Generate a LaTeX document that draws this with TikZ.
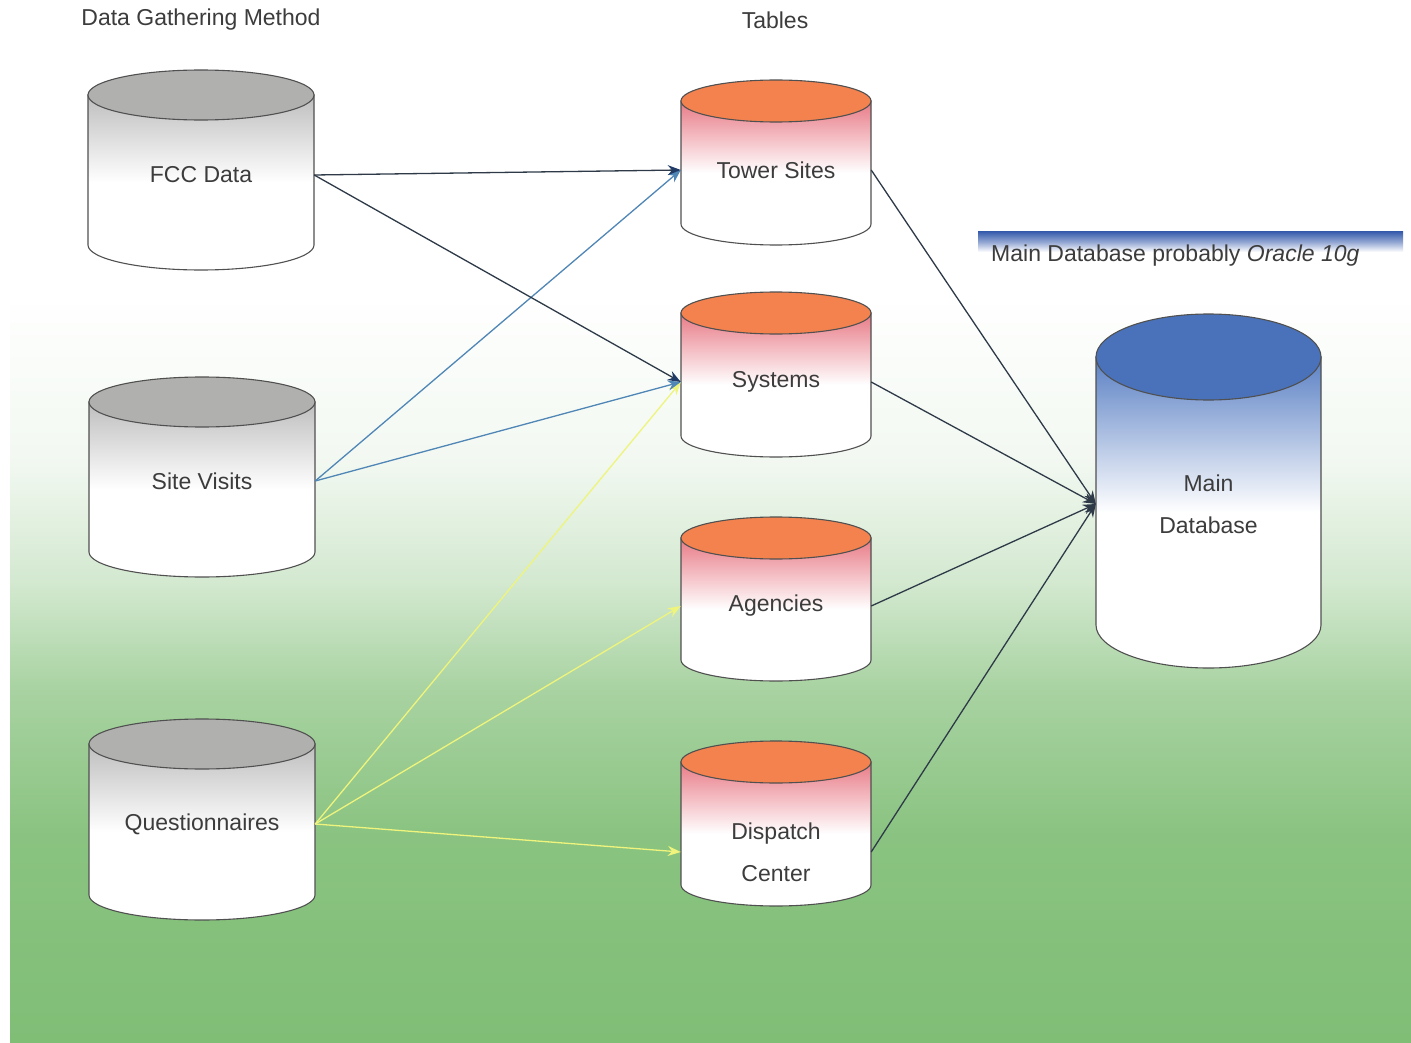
\documentclass[tikz,border=0pt]{standalone}
\usepackage{fontspec}
\setmainfont{Liberation Sans}
\usetikzlibrary{arrows.meta,positioning,calc}
\definecolor{dbink}{HTML}{3C3C3C}
\definecolor{dbline}{HTML}{2E3A48}
\definecolor{dbnavy}{HTML}{1F3B66}
\definecolor{dbsteel}{HTML}{4F86B6}
\definecolor{dbyellow}{HTML}{EEF47C}
\definecolor{dbgreen}{HTML}{80BE76}
\definecolor{lidgray}{HTML}{B0B1AF}
\definecolor{sidegray}{HTML}{BEBEBE}
\definecolor{lidorange}{HTML}{F3824F}
\definecolor{sidered}{HTML}{E87A86}
\definecolor{lidblue}{HTML}{4A72BA}
\definecolor{sideblue}{HTML}{5A80C4}
\definecolor{barblue}{HTML}{3B5FAE}

% white sky fading into green grass (path spans 25bp..75bp)
\pgfdeclareverticalshading{meadow}{100bp}{color(0bp)=(dbgreen); color(25bp)=(dbgreen);
  color(35bp)=(dbgreen!92!white); color(42bp)=(dbgreen!68!white); color(47bp)=(dbgreen!35!white);
  color(53bp)=(dbgreen!10!white); color(61bp)=(white); color(100bp)=(white)}

% drum: #1 centre x, #2 lid y, #3 base y, #4 half width, #5 end radius, #6 lid, #7 side
\newcommand\drum[7]{%
  \draw[drumedge, top color=#7, bottom color=white, middle color=white]
    (#1-#4,#2) -- (#1-#4,#3) arc[start angle=180, end angle=360, x radius=#4pt, y radius=#5pt]
    -- (#1+#4,#2) -- cycle;
  \draw[drumedge, fill=#6] (#1,#2) ellipse[x radius=#4pt, y radius=#5pt];}

\begin{document}
\begin{tikzpicture}[x=1pt, y=-1pt,
    drumedge/.style={draw=dbink!90, line width=1.1pt},
    tag/.style={font=\fontsize{23}{42}\selectfont, text=dbink, align=center,
                inner sep=0pt, minimum width=#1},
    heading/.style={font=\fontsize{23}{28}\selectfont, text=dbink, inner sep=0pt},
    feed/.style={line width=1.3pt, -{Stealth[length=13pt, width=10pt]}}]
  \useasboundingbox (0,0) rectangle (1411,1043);
  \fill[white] (0,0) rectangle (1411,1043);
  \shade[shading=meadow] (10,0) rectangle (1411,1043);

  % column headings
  \node[heading] (method) at (201,20) {Data Gathering Method};
  \node[heading] (tables) at (775,20) {Tables};

  % sources
  \drum{201}{95}{245}{113}{25}{lidgray}{sidegray}
  \drum{202}{402}{552}{113}{25}{lidgray}{sidegray}
  \drum{202}{744}{895}{113}{25}{lidgray}{sidegray}
  \node[tag=226pt] (fcc)   at (201,175) {FCC Data};
  \node[tag=226pt] (site)  at (202,481) {Site Visits};
  \node[tag=226pt] (quest) at (202,824) {Questionnaires};

  % tables
  \drum{776}{101}{224}{95}{21}{lidorange}{sidered}
  \drum{776}{313}{436}{95}{21}{lidorange}{sidered}
  \drum{776}{538}{660}{95}{21}{lidorange}{sidered}
  \drum{776}{762}{885}{95}{21}{lidorange}{sidered}
  \node[tag=190pt] (tower)    at (776,170) {Tower Sites};
  \node[tag=190pt] (systems)  at (776,382) {Systems};
  \node[tag=190pt] (agencies) at (776,606) {Agencies};
  \node[tag=190pt] (dispatch) at (776,852) {Dispatch\\Center};

  % main database
  \drum{1208.5}{357}{625}{112.5}{43}{lidblue}{sideblue}
  \node[tag=225pt] (main) at (1208.5,504) {Main\\Database};
  \node[top color=barblue, bottom color=white, middle color=barblue!55!white,
        minimum width=425pt, minimum height=20pt, inner sep=0pt] (bar) at (1190.5,242) {};
  \node[heading, anchor=west] (note) at (991,256) {Main Database probably \textit{Oracle 10g}};

  % feeds into the tables
  \draw[feed, dbyellow] (quest.east) -- (systems.west);
  \draw[feed, dbyellow] (quest.east) -- (agencies.west);
  \draw[feed, dbyellow] (quest.east) -- (dispatch.west);
  \draw[feed, dbsteel] (site.east) -- (tower.west);
  \draw[feed, dbsteel] (site.east) -- (systems.west);
  \draw[feed, dbline, -{Stealth[length=13pt, width=10pt, color=dbnavy]}] (fcc.east) -- (tower.west);
  \draw[feed, dbline, -{Stealth[length=13pt, width=10pt, color=dbnavy]}] (fcc.east) -- (systems.west);

  % tables into the main database
  \foreach \t in {tower,systems,agencies,dispatch}
    \draw[feed, dbline] (\t.east) -- (main.west);
\end{tikzpicture}
\end{document}
